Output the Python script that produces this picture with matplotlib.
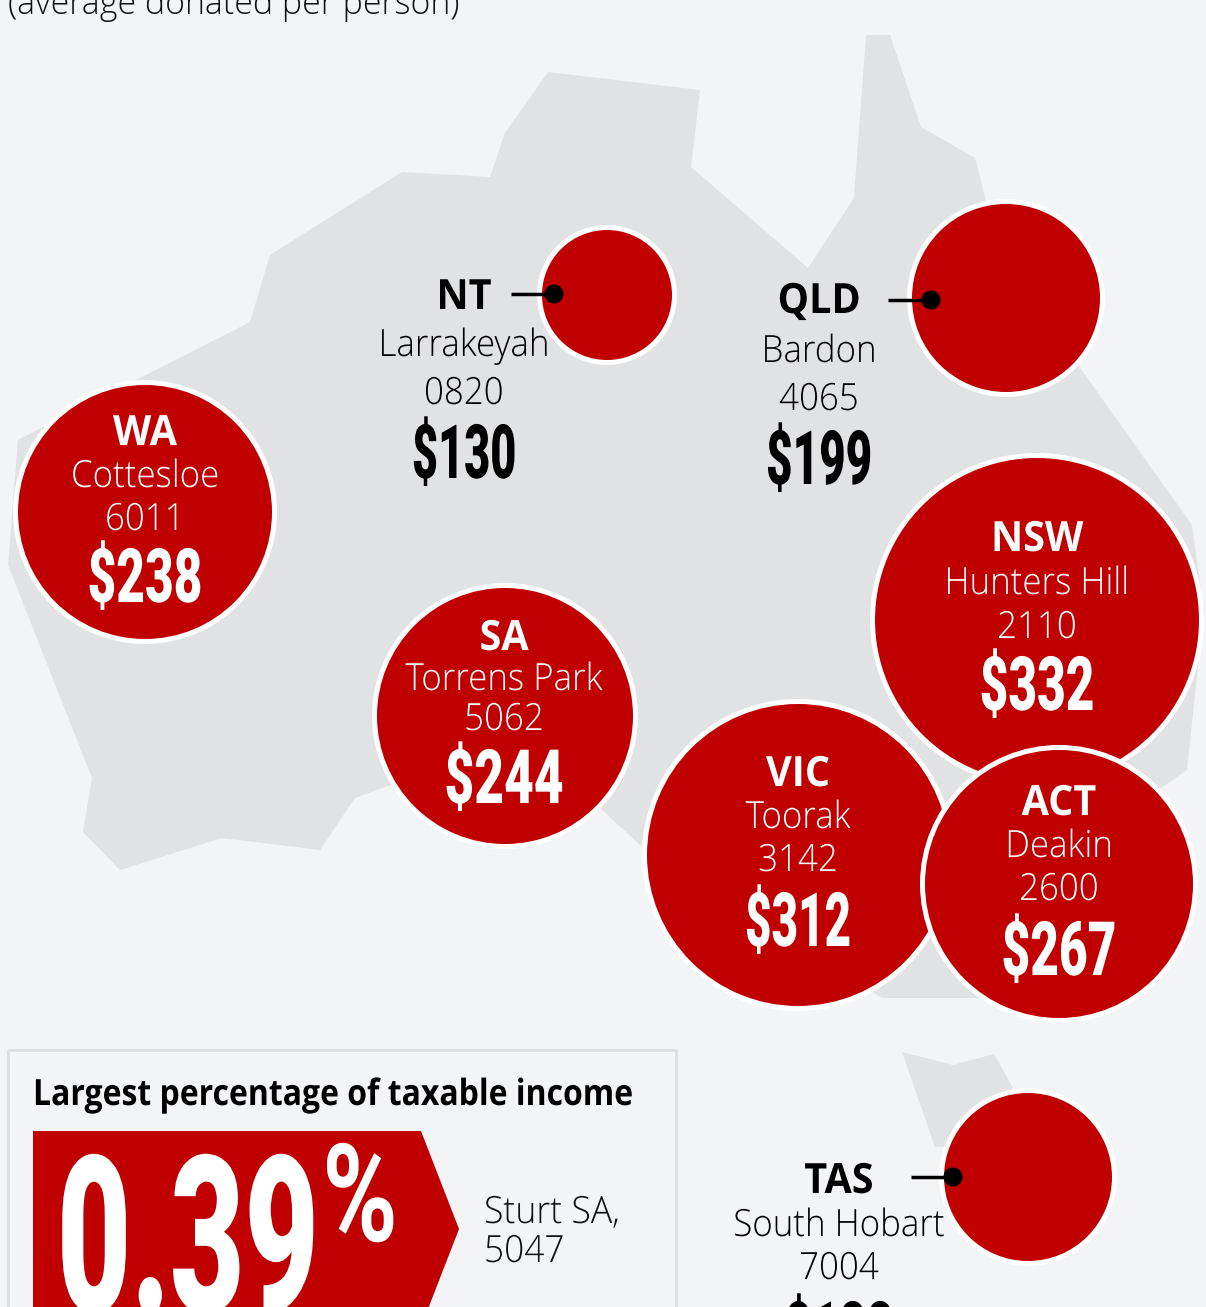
import matplotlib
matplotlib.use('Agg')
import matplotlib.pyplot as plt
import matplotlib.patheffects as pe
from matplotlib.patches import Circle, Polygon, Rectangle
from matplotlib.transforms import Affine2D

RED = '#c00000'
BG = '#f3f4f6'
LAND = '#e1e2e4'

# data
states = ['WA', 'NT', 'QLD', 'SA', 'NSW', 'VIC', 'ACT', 'TAS']
suburbs = ['Cottesloe', 'Larrakeyah', 'Bardon', 'Torrens Park', 'Hunters Hill', 'Toorak', 'Deakin', 'South Hobart']
postcodes = ['6011', '0820', '4065', '5062', '2110', '3142', '2600', '7004']
amounts = ['$238', '$130', '$199', '$244', '$332', '$312', '$267', '$188']

# layout, pixels
centre_x = [145, 607, 1006, 505, 1037, 798, 1059, 1028]
centre_y = [512, 295, 298, 716, 620, 855, 884, 1177]
radius = [127, 65, 94, 128, 162, 151, 134, 84]
text_x = [145, 464, 819, 504, 1037, 798, 1059, 839]
base_y = [[445, 487, 530, 602], [309, 356, 404, 478], [313, 362, 410, 484], [650, 690, 730, 803],
          [551, 594, 638, 710], [786, 828, 871, 946], [815, 857, 900, 975], [1193, 1236, 1279, 1355]]
amount_sx = [0.66, 0.60, 0.61, 0.685, 0.66, 0.61, 0.66, 0.63]
leaders = {'NT': (511, 554, 294), 'QLD': (888, 931, 300), 'TAS': (911, 953, 1177)}

mainland = [(8, 565), (18, 440), (250, 322), (270, 255), (402, 172), (490, 177), (505, 133),
            (548, 72), (700, 90), (691, 167), (808, 268), (854, 198), (866, 35), (890, 35), (921, 127),
            (975, 158), (987, 205), (1078, 365), (1192, 525), (1204, 610), (1187, 770), (1100, 830),
            (1000, 998), (882, 998), (640, 845), (600, 808), (390, 785), (355, 798), (320, 850),
            (222, 838), (120, 870), (83, 832), (92, 778)]
tasmania = [(902, 1052), (953, 1065), (994, 1054), (1013, 1088), (950, 1147), (935, 1147)]


class Squeeze(pe.AbstractPathEffect):
    # narrows the glyphs, no condensed font is installed
    def __init__(self, sx, left=False):
        super().__init__()
        self.sx = sx
        self.left = left

    def draw_path(self, renderer, gc, tpath, affine, rgbFace=None):
        box = tpath.get_extents()
        mid = 0 if self.left else (box.x0 + box.x1) / 2
        squeeze = Affine2D().translate(-mid, 0).scale(self.sx, 1).translate(mid, 0)
        renderer.draw_path(gc, tpath, squeeze + affine, rgbFace)


fig = plt.figure(figsize=(12.06, 13.07), dpi=100, facecolor=BG)
ax = fig.add_axes([0, 0, 1, 1])
ax.set_xlim(0, 1206)
ax.set_ylim(1307, 0)
ax.axis('off')

ax.add_patch(Polygon(mainland, closed=True, fc=LAND, ec='none', zorder=1))
ax.add_patch(Polygon(tasmania, closed=True, fc=LAND, ec='none', zorder=1))

ax.text(8, 14.5, '(average donated per person)', fontsize=24.4, family='Open Sans', weight='light', color='#111111')

for i in range(len(states)):
    z = 2 + i
    ax.add_patch(Circle((centre_x[i], centre_y[i]), radius[i] + 5, fc='white', ec='none', zorder=z))
    ax.add_patch(Circle((centre_x[i], centre_y[i]), radius[i], fc=RED, ec='none', zorder=z))
    col = 'black' if states[i] in leaders else 'white'
    x = text_x[i]
    y = base_y[i]
    tz = 20
    ax.text(x, y[0], states[i], fontsize=30, family='Open Sans', weight='bold', color=col, ha='center',
            va='baseline', zorder=tz, path_effects=[Squeeze(0.95)])
    ax.text(x, y[1], suburbs[i], fontsize=27, family='Open Sans', weight='light', color=col, ha='center',
            va='baseline', zorder=tz, path_effects=[Squeeze(0.93)])
    ax.text(x, y[2], postcodes[i], fontsize=27, family='Open Sans', weight='light', color=col, ha='center',
            va='baseline', zorder=tz, path_effects=[Squeeze(0.93)])
    ax.text(x, y[3], amounts[i], fontsize=54, family='Roboto', weight='black', color=col, ha='center',
            va='baseline', zorder=tz, path_effects=[Squeeze(amount_sx[i])])

for state, (x0, x1, y) in leaders.items():
    ax.plot([x0, x1], [y, y], color='black', lw=2.5, zorder=18, solid_capstyle='butt')
    ax.add_patch(Circle((x1, y), 9.5, fc='black', ec='none', zorder=19))

# bottom box
ax.add_patch(Rectangle((8, 1050), 668, 300, fc='none', ec='#dcdee1', lw=2, zorder=1))
ax.text(33, 1105, 'Largest percentage of taxable income', fontsize=26, family='Open Sans', weight='bold',
        color='black', path_effects=[Squeeze(0.885, left=True)])
ax.add_patch(Polygon([(33, 1131), (421, 1131), (459, 1229), (421, 1327), (33, 1327)], closed=True, fc=RED, ec='none'))
ax.text(188, 1312, '0.39', fontsize=158, family='Roboto', weight='black', color='white', ha='center',
        va='baseline', path_effects=[Squeeze(0.585)])
ax.text(360, 1241, '%', fontsize=98, family='Roboto', weight='bold', color='white', ha='center',
        va='baseline', path_effects=[Squeeze(0.75)])
ax.text(484, 1223, 'Sturt SA,', fontsize=27, family='Open Sans', weight='light', color='#111111',
        path_effects=[Squeeze(0.95, left=True)])
ax.text(484, 1262, '5047', fontsize=27, family='Open Sans', weight='light', color='#111111',
        path_effects=[Squeeze(0.94, left=True)])

fig.savefig('out.png', dpi=100, facecolor=BG)
